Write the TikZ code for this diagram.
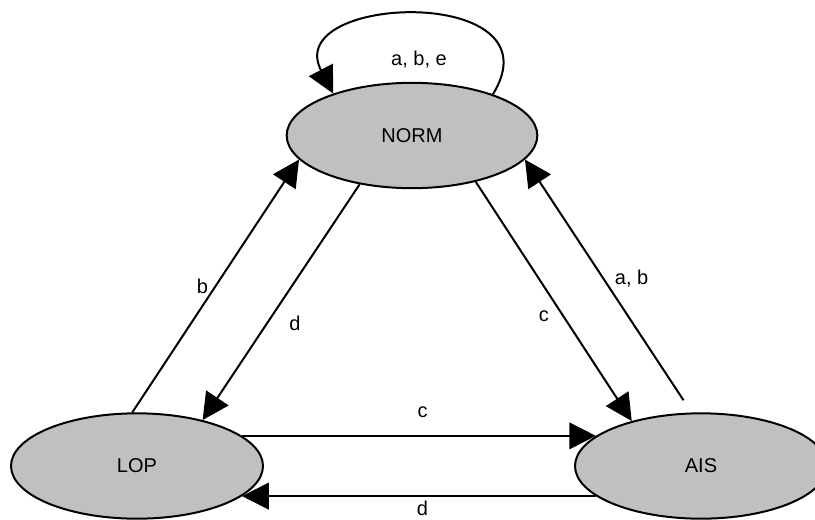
\documentclass[tikz,border=0pt]{standalone}
\usepackage{fontspec}
\setmainfont{Liberation Sans}
\usetikzlibrary{arrows.meta,shapes.geometric}
\definecolor{stategray}{RGB}{192,192,192}
\begin{document}
\begin{tikzpicture}[x=0.75pt,y=-0.75pt,
        font=\fontsize{15pt}{18pt}\selectfont,
        state/.style={ellipse, draw, line width=1.5pt, fill=stategray, inner sep=0pt},
        arr/.style={-{Triangle[length=20pt,width=20pt]}, line width=1.5pt},
        lbl/.style={inner sep=2pt}]
        \useasboundingbox (0,0) rectangle (815,519);

        \node[state, minimum width=188pt, minimum height=79pt] (norm) at (412,135.5) {NORM};
        \node[state, minimum width=189pt, minimum height=79pt] (lop) at (137,466) {LOP};
        \node[state, minimum width=189pt, minimum height=79pt] (ais) at (701,466) {AIS};

        \draw[arr] (norm.27) .. controls +(68,-110) and +(-52,-100) .. (norm.152)
            node[lbl, pos=0.5, below=24pt] {a, b, e};

        \draw[arr] (lop.95) -- (norm.192) node[lbl, pos=0.5, left=3pt] {b};
        \draw[arr] (norm.223) -- (lop.35) node[lbl, pos=0.59, right=14pt] {d};
        \draw[arr] (norm.324) -- (ais.147) node[lbl, pos=0.56, left=8pt] {c};
        \draw[arr, shorten <=11pt] (ais.100) -- (norm.348) node[lbl, pos=0.53, right=6pt] {a, b};

        \draw[arr] (lop.16) -- (ais.164) node[lbl, pos=0.51, above=11pt] {c};
        \draw[arr] (ais.196) -- (lop.344) node[lbl, inner sep=1pt, pos=0.49, below=2pt] {d};
    \end{tikzpicture}
\end{document}
